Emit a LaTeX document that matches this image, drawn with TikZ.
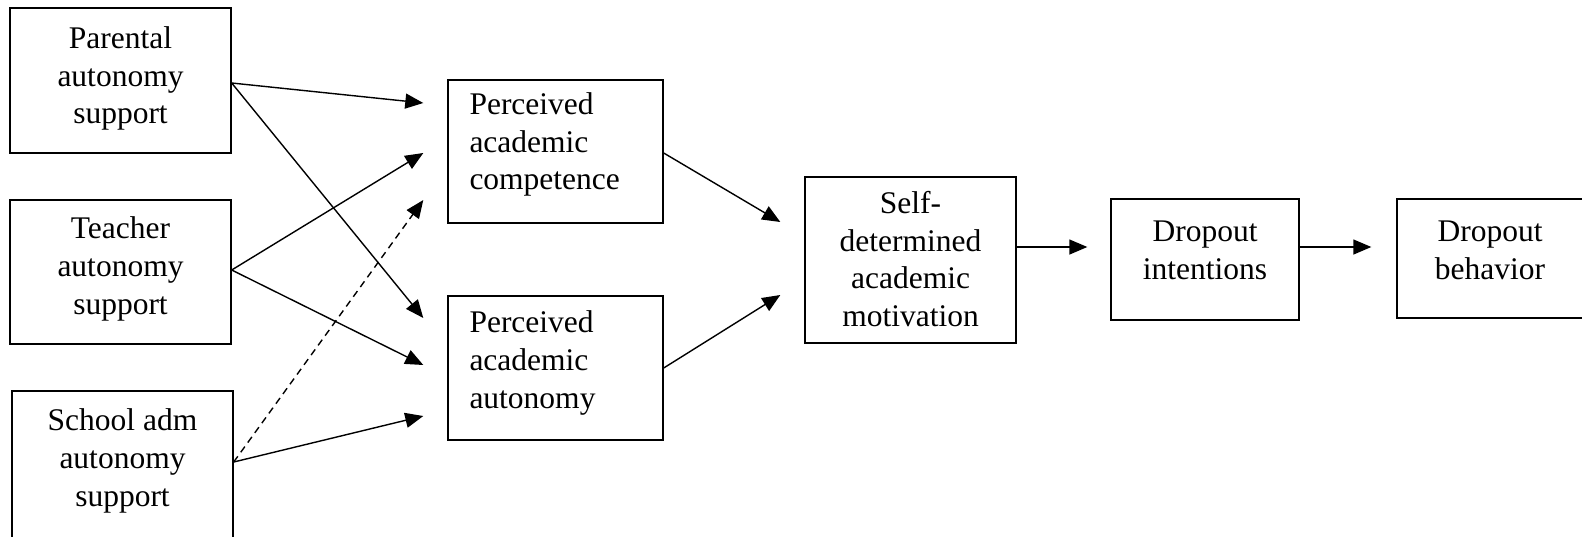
\documentclass[tikz,border=0pt]{standalone}
\usepackage{fontspec}
\setmainfont{Liberation Serif}
\usetikzlibrary{arrows.meta,calc}
\begin{document}
\begin{tikzpicture}[x=1pt,y=-1pt,
  box/.style={draw,line width=1.4pt,inner sep=0pt},
  txt/.style={inner sep=0pt,font=\fontsize{31.5}{37.8}\selectfont,align=center},
  ltxt/.style={inner sep=0pt,font=\fontsize{31.5}{37.8}\selectfont,align=left,anchor=west},
  arr/.style={line width=1.4pt,-{Triangle[length=18pt,width=15pt]}},
  darr/.style={arr,dash pattern=on 7pt off 5pt}]
\useasboundingbox (0,0) rectangle (1582,536);
% boxes
\node[box,minimum width=221pt,minimum height=145pt] (par) at (120.5,80.5) {};
\node[box,minimum width=221pt,minimum height=144pt] (tea) at (120.5,272) {};
\node[box,minimum width=221pt,minimum height=149pt] (sch) at (122.5,465.5) {};
\node[box,minimum width=215pt,minimum height=143pt] (comp) at (555.5,151.5) {};
\node[box,minimum width=215pt,minimum height=144pt] (auto) at (555.5,368) {};
\node[box,minimum width=211pt,minimum height=166pt] (self) at (910.5,260) {};
\node[box,minimum width=188pt,minimum height=121pt] (int) at (1205,259.5) {};
\node[box,minimum width=203pt,minimum height=119pt] (beh) at (1498.5,258.5) {};
% texts
\node[txt] (tpar) at ($(par.center)+(0,-2)$) {Parental\\autonomy\\support};
\node[txt] (ttea) at ($(tea.center)+(0,-3)$) {Teacher\\autonomy\\support};
\node[txt] (tsch) at ($(sch.center)+(0,-4.5)$) {School adm\\autonomy\\support};
\node[ltxt] (tcomp) at ($(comp.west)+(22,-7)$) {Perceived\\academic\\competence};
\node[ltxt] (tauto) at ($(auto.west)+(22,-5)$) {Perceived\\academic\\autonomy};
\node[txt] (tself) at ($(self.center)+(0,-1)$) {Self-\\determined\\academic\\motivation};
\node[txt] (tint) at ($(int.center)+(0,-9.5)$) {Dropout\\intentions};
\node[txt] (tbeh) at ($(beh.center)+(-8.5,-8.5)$) {Dropout\\behavior};
% connectors
\draw[arr] ($(par.east)+(0,2.5)$) -- ($(comp.west)+(-24,-48.5)$);
\draw[arr] ($(par.east)+(0,2.5)$) -- ($(auto.west)+(-24,-50)$);
\draw[arr] ($(tea.east)+(0,-2)$) -- ($(comp.west)+(-24,1.5)$);
\draw[arr] ($(tea.east)+(0,-2)$) -- ($(auto.west)+(-24,-3)$);
\draw[darr] ($(sch.east)+(0,-3.5)$) -- ($(comp.west)+(-24,48.5)$);
\draw[arr] ($(sch.east)+(0,-3.5)$) -- ($(auto.west)+(-24,48)$);
\draw[arr] ($(comp.east)+(0,1.5)$) -- ($(self.west)+(-24,-38)$);
\draw[arr] (auto.east) -- ($(self.west)+(-24,35)$);
\draw[arr] ($(self.east)+(0,-13)$) -- ($(int.west)+(-23,-12.5)$);
\draw[arr] ($(int.east)+(0,-12.5)$) -- ($(beh.west)+(-25,-11.5)$);
\end{tikzpicture}
\end{document}
